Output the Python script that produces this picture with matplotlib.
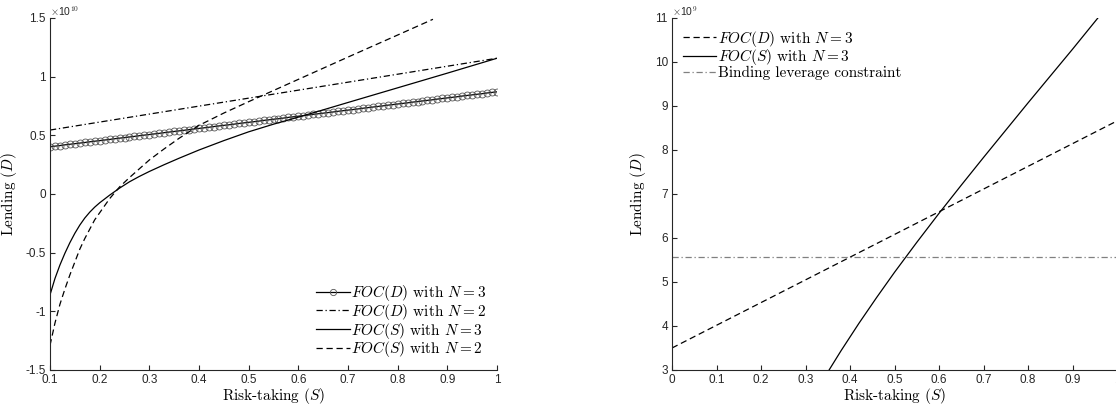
import matplotlib
matplotlib.use('Agg')
import matplotlib.pyplot as plt
import numpy as np

plt.rcParams['mathtext.fontset'] = 'cm'
plt.rcParams['axes.unicode_minus'] = False

# ---- left panel (values in units of 1e10) ----
s_grid = np.linspace(0.1, 1.0, 91)
focD_n3 = [0.403, 0.408, 0.413, 0.419, 0.424, 0.429, 0.434, 0.439, 0.445, 0.450,
           0.455, 0.460, 0.465, 0.471, 0.476, 0.481, 0.486, 0.491, 0.497, 0.502,
           0.507, 0.512, 0.517, 0.523, 0.528, 0.533, 0.538, 0.543, 0.549, 0.554,
           0.559, 0.564, 0.569, 0.575, 0.580, 0.585, 0.590, 0.595, 0.601, 0.606,
           0.611, 0.616, 0.621, 0.627, 0.632, 0.637, 0.642, 0.647, 0.653, 0.658,
           0.663, 0.668, 0.673, 0.679, 0.684, 0.689, 0.694, 0.699, 0.705, 0.710,
           0.715, 0.720, 0.725, 0.731, 0.736, 0.741, 0.746, 0.751, 0.757, 0.762,
           0.767, 0.772, 0.777, 0.783, 0.788, 0.793, 0.798, 0.803, 0.809, 0.814,
           0.819, 0.824, 0.829, 0.835, 0.840, 0.845, 0.850, 0.855, 0.861, 0.866,
           0.871]

s_d2 = [0.1, 0.3, 0.5, 0.7, 0.9, 1.0]
focD_n2 = [0.545, 0.681, 0.817, 0.953, 1.089, 1.157]

s_s3 = [0.10, 0.11, 0.12, 0.13, 0.14, 0.15, 0.16, 0.17, 0.18, 0.19, 0.20, 0.22,
        0.24, 0.26, 0.28, 0.30, 0.33, 0.36, 0.40, 0.45, 0.50, 0.55, 0.60, 0.65,
        0.70, 0.80, 0.90, 1.00]
focS_n3 = [-0.86, -0.72, -0.605, -0.505, -0.415, -0.335, -0.265, -0.205, -0.155, -0.112,
           -0.075, -0.01, 0.05, 0.104, 0.15, 0.192, 0.25, 0.305, 0.375, 0.455,
           0.53, 0.595, 0.655, 0.717, 0.78, 0.905, 1.03, 1.157]

s_s2 = [0.10, 0.11, 0.12, 0.13, 0.14, 0.15, 0.16, 0.17, 0.18, 0.19, 0.20, 0.22,
        0.24, 0.26, 0.28, 0.30, 0.33, 0.36, 0.40, 0.45, 0.50, 0.55, 0.60, 0.65,
        0.70, 0.75, 0.80, 0.871]
focS_n2 = [-1.29, -1.10, -0.94, -0.81, -0.69, -0.58, -0.47, -0.38, -0.30, -0.22,
           -0.16, -0.04, 0.06, 0.14, 0.215, 0.29, 0.385, 0.475, 0.585, 0.69,
           0.787, 0.882, 0.977, 1.072, 1.167, 1.261, 1.355, 1.489]

# ---- right panel (values in units of 1e9) ----
s_right_d = [0.0, 0.5, 1.0]
focD_right = [3.5, 6.08, 8.66]
s_right_s = [0.353, 0.38, 0.42, 0.46, 0.50, 0.55, 0.60, 0.65, 0.70, 0.75, 0.80,
             0.85, 0.90, 0.957]
focS_right = [3.0, 3.44, 4.06, 4.65, 5.22, 5.90, 6.56, 7.20, 7.83, 8.45, 9.07,
              9.68, 10.29, 11.0]
binding_level = 5.57

cm_font = 'cmr10'
tick_col = '#262626'
dash = (5, 3)
dashdot = (5, 2.2, 1, 2.2)

def style_axes(ax):
    for side in ['top', 'right']:
        ax.spines[side].set_visible(False)
    for side in ['left', 'bottom']:
        ax.spines[side].set_color(tick_col)
        ax.spines[side].set_linewidth(0.8)
    ax.tick_params(direction='in', length=3.5, width=0.8, colors=tick_col,
                   labelsize=8.5, pad=3)
    for lbl in ax.get_xticklabels() + ax.get_yticklabels():
        lbl.set_fontfamily('Liberation Sans')

fig = plt.figure(figsize=(11.16, 4.07), dpi=100)

ax1 = fig.add_axes([50/1116, 37/407, 447/1116, 352/407])
ax1.plot(s_grid, focD_n3, '-', color='k', lw=0.9, marker='o', ms=5,
         mfc='none', mec='#555555', mew=0.6, label=r'$FOC(D)$ with $N=3$')
ax1.plot(s_d2, focD_n2, color='k', lw=0.9, dashes=dashdot, label=r'$FOC(D)$ with $N=2$')
ax1.plot(s_s3, focS_n3, '-', color='k', lw=0.9, label=r'$FOC(S)$ with $N=3$')
ax1.plot(s_s2, focS_n2, color='k', lw=0.9, dashes=dash, label=r'$FOC(S)$ with $N=2$')
ax1.set_xlim(0.1, 1)
ax1.set_ylim(-1.5, 1.5)
xt1 = [0.1, 0.2, 0.3, 0.4, 0.5, 0.6, 0.7, 0.8, 0.9, 1.0]
ax1.set_xticks(xt1)
ax1.set_xticklabels(['0.1', '0.2', '0.3', '0.4', '0.5', '0.6', '0.7', '0.8', '0.9', '1'])
yt1 = [-1.5, -1, -0.5, 0, 0.5, 1, 1.5]
ax1.set_yticks(yt1)
ax1.set_yticklabels(['-1.5', '-1', '-0.5', '0', '0.5', '1', '1.5'])
style_axes(ax1)
ax1.set_xlabel('Risk-taking $(S)$', fontfamily=cm_font, fontsize=11, labelpad=0)
ax1.set_ylabel('Lending $(D)$', fontfamily=cm_font, fontsize=11, labelpad=5)
ax1.text(0.0, 1.0, r'$\times$10$^{10}$', transform=ax1.transAxes, fontsize=7.5,
         color=tick_col, fontfamily='Liberation Sans', ha='left', va='bottom')
ax1.legend(loc='lower right', frameon=False, prop={'family': cm_font, 'size': 11},
           handlelength=2.2, handletextpad=0.1, labelspacing=-0.08,
           borderaxespad=0.3, markerscale=0.9)

ax2 = fig.add_axes([672/1116, 37/407, 445/1116, 352/407])
ax2.plot(s_right_d, focD_right, color='k', lw=0.9, dashes=dash, label=r'$FOC(D)$ with $N=3$')
ax2.plot(s_right_s, focS_right, '-', color='k', lw=0.9, label=r'$FOC(S)$ with $N=3$')
ax2.axhline(binding_level, color='#808080', lw=0.9, dashes=dashdot,
            label='Binding leverage constraint')
ax2.set_xlim(0, 1)
ax2.set_ylim(3, 11)
xt2 = [0, 0.1, 0.2, 0.3, 0.4, 0.5, 0.6, 0.7, 0.8, 0.9, 1.0]
ax2.set_xticks(xt2)
ax2.set_xticklabels(['0', '0.1', '0.2', '0.3', '0.4', '0.5', '0.6', '0.7', '0.8', '0.9', '1'])
yt2 = [3, 4, 5, 6, 7, 8, 9, 10, 11]
ax2.set_yticks(yt2)
ax2.set_yticklabels([str(v) for v in yt2])
style_axes(ax2)
ax2.set_xlabel('Risk-taking $(S)$', fontfamily=cm_font, fontsize=11, labelpad=0)
ax2.set_ylabel('Lending $(D)$', fontfamily=cm_font, fontsize=11, labelpad=5)
ax2.text(0.0, 1.0, r'$\times$10$^{9}$', transform=ax2.transAxes, fontsize=7.5,
         color=tick_col, fontfamily='Liberation Sans', ha='left', va='bottom')
ax2.legend(loc='upper left', frameon=False, prop={'family': cm_font, 'size': 11},
           handlelength=2.2, handletextpad=0.1, labelspacing=-0.08,
           borderaxespad=0.3)

fig.savefig('out.png', dpi=100)
